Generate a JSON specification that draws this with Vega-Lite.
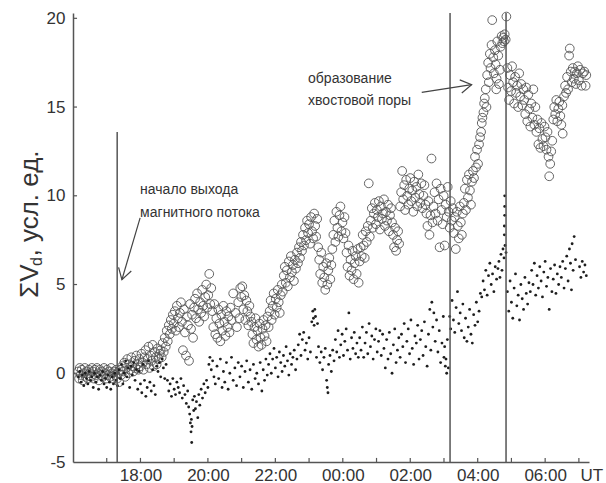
{
"$schema": "https://vega.github.io/schema/vega-lite/v6.json",
"width": 516, "height": 449,
"autosize": {"type": "none"},
"padding": {"left": 73, "top": 13, "right": 17, "bottom": 21},
"background": "white",
"config": {"view": {"stroke": null}, "font": "Liberation Sans", "text": {"font": "Liberation Sans"}},
"datasets": {
"circles": [
{"t":0.15,"v":0.1},{"t":0.18,"v":-0.3},{"t":0.2,"v":0.3},{"t":0.23,"v":-0.1},{"t":0.26,"v":0.2},{"t":0.29,"v":-0.4},{"t":0.32,"v":0.0},{"t":0.35,"v":0.3},{"t":0.38,"v":-0.2},{"t":0.41,"v":0.1},{"t":0.44,"v":-0.3},{"t":0.47,"v":0.2},{"t":0.5,"v":0.0},{"t":0.53,"v":-0.2},{"t":0.56,"v":0.3},{"t":0.59,"v":0.1},{"t":0.62,"v":-0.3},{"t":0.65,"v":0.2},{"t":0.68,"v":-0.1},{"t":0.71,"v":0.3},{"t":0.74,"v":0.0},{"t":0.77,"v":-0.4},{"t":0.8,"v":0.2},{"t":0.83,"v":-0.1},{"t":0.86,"v":0.1},{"t":0.89,"v":-0.2},{"t":0.92,"v":0.3},{"t":0.95,"v":0.0},{"t":0.98,"v":-0.3},{"t":1.01,"v":0.2},{"t":1.04,"v":-0.1},{"t":1.07,"v":0.1},{"t":1.1,"v":-0.2},{"t":1.13,"v":0.3},{"t":1.16,"v":0.0},{"t":1.19,"v":-0.3},{"t":1.22,"v":0.1},{"t":1.25,"v":-0.1},{"t":1.28,"v":0.2},
{"t":1.31,"v":-0.3},{"t":1.34,"v":0.0},{"t":1.37,"v":-0.5},{"t":1.4,"v":0.2},{"t":1.43,"v":-0.1},{"t":1.46,"v":0.4},{"t":1.49,"v":0.1},{"t":1.52,"v":0.6},{"t":1.55,"v":-0.2},{"t":1.58,"v":0.3},{"t":1.61,"v":0.8},{"t":1.64,"v":0.0},{"t":1.67,"v":0.5},{"t":1.7,"v":0.2},{"t":1.73,"v":0.9},{"t":1.76,"v":0.4},{"t":1.79,"v":0.1},{"t":1.82,"v":0.7},{"t":1.85,"v":0.3},{"t":1.88,"v":1.0},{"t":1.91,"v":0.5},{"t":1.94,"v":0.2},{"t":1.97,"v":0.8},
{"t":2.0,"v":0.4},{"t":2.03,"v":1.1},{"t":2.06,"v":0.6},{"t":2.09,"v":0.2},{"t":2.12,"v":0.9},{"t":2.15,"v":1.3},{"t":2.18,"v":0.5},{"t":2.21,"v":0.8},{"t":2.24,"v":1.5},{"t":2.27,"v":0.3},{"t":2.3,"v":1.0},{"t":2.33,"v":0.7},{"t":2.36,"v":1.6},{"t":2.39,"v":0.4},{"t":2.42,"v":1.2},{"t":2.45,"v":0.9},{"t":2.48,"v":0.5},{"t":2.51,"v":1.4},{"t":2.54,"v":0.8},{"t":2.57,"v":1.1},
{"t":2.6,"v":1.3},{"t":2.63,"v":0.9},{"t":2.66,"v":1.7},{"t":2.69,"v":1.2},{"t":2.72,"v":2.0},{"t":2.75,"v":1.5},{"t":2.78,"v":2.4},{"t":2.81,"v":1.8},{"t":2.84,"v":2.7},{"t":2.87,"v":2.2},{"t":2.9,"v":3.0},{"t":2.93,"v":2.5},{"t":2.96,"v":3.3},{"t":2.99,"v":2.8},
{"t":3.02,"v":3.5},{"t":3.05,"v":2.4},{"t":3.08,"v":3.8},{"t":3.11,"v":3.1},{"t":3.14,"v":2.6},{"t":3.17,"v":3.4},{"t":3.2,"v":4.0},{"t":3.23,"v":2.9},{"t":3.26,"v":1.3},{"t":3.29,"v":3.6},{"t":3.32,"v":2.3},{"t":3.35,"v":1.0},{"t":3.38,"v":3.2},{"t":3.41,"v":2.7},{"t":3.44,"v":0.7},{"t":3.47,"v":3.9},{"t":3.5,"v":2.5},{"t":3.53,"v":3.3},{"t":3.56,"v":2.0},{"t":3.59,"v":3.7},
{"t":3.62,"v":4.2},{"t":3.65,"v":3.1},{"t":3.68,"v":4.5},{"t":3.71,"v":3.6},{"t":3.74,"v":2.9},{"t":3.77,"v":4.0},{"t":3.8,"v":3.4},{"t":3.83,"v":4.7},{"t":3.86,"v":3.8},{"t":3.89,"v":3.2},{"t":3.92,"v":4.3},{"t":3.95,"v":5.0},{"t":3.98,"v":3.7},{"t":4.01,"v":4.4},{"t":4.04,"v":5.6},{"t":4.07,"v":3.9},{"t":4.1,"v":4.8},
{"t":4.13,"v":3.5},{"t":4.16,"v":2.6},{"t":4.19,"v":3.9},{"t":4.22,"v":2.2},{"t":4.25,"v":3.1},{"t":4.28,"v":2.0},{"t":4.31,"v":3.6},{"t":4.34,"v":2.8},{"t":4.37,"v":1.8},{"t":4.4,"v":3.3},{"t":4.43,"v":2.4},{"t":4.46,"v":3.8},{"t":4.49,"v":2.9},{"t":4.52,"v":2.1},{"t":4.55,"v":3.5},{"t":4.58,"v":2.6},{"t":4.61,"v":3.2},{"t":4.64,"v":2.3},{"t":4.67,"v":3.7},{"t":4.7,"v":3.0},
{"t":4.75,"v":4.5},{"t":4.82,"v":3.4},{"t":4.86,"v":2.6},{"t":4.9,"v":4.0},{"t":4.93,"v":3.1},{"t":4.96,"v":4.8},{"t":4.99,"v":4.3},{"t":5.02,"v":4.9},{"t":5.05,"v":3.6},{"t":5.08,"v":4.4},{"t":5.11,"v":3.0},{"t":5.14,"v":4.1},{"t":5.17,"v":3.5},{"t":5.2,"v":2.7},{"t":5.23,"v":3.8},{"t":5.26,"v":3.2},
{"t":5.29,"v":2.9},{"t":5.32,"v":2.2},{"t":5.35,"v":1.7},{"t":5.38,"v":2.6},{"t":5.41,"v":3.1},{"t":5.44,"v":1.9},{"t":5.47,"v":2.4},{"t":5.5,"v":1.5},{"t":5.53,"v":2.8},{"t":5.56,"v":2.0},{"t":5.59,"v":1.6},{"t":5.62,"v":2.5},{"t":5.65,"v":3.0},{"t":5.68,"v":2.1},{"t":5.71,"v":2.7},{"t":5.74,"v":1.8},{"t":5.77,"v":3.2},
{"t":5.8,"v":2.6},{"t":5.83,"v":3.5},{"t":5.86,"v":4.1},{"t":5.89,"v":3.0},{"t":5.92,"v":3.8},{"t":5.95,"v":4.5},{"t":5.98,"v":3.3},{"t":6.01,"v":4.2},{"t":6.04,"v":3.7},{"t":6.07,"v":4.7},{"t":6.1,"v":4.0},{"t":6.13,"v":3.4},{"t":6.16,"v":4.4},{"t":6.19,"v":5.0},
{"t":6.22,"v":4.6},{"t":6.25,"v":5.5},{"t":6.28,"v":6.0},{"t":6.31,"v":5.1},{"t":6.34,"v":5.8},{"t":6.37,"v":4.9},{"t":6.4,"v":6.3},{"t":6.43,"v":5.4},{"t":6.46,"v":6.6},{"t":6.49,"v":5.7},{"t":6.52,"v":6.1},{"t":6.55,"v":5.2},{"t":6.58,"v":6.4},{"t":6.61,"v":5.9},{"t":6.64,"v":6.8},{"t":6.67,"v":6.2},{"t":6.7,"v":7.1},{"t":6.73,"v":6.5},
{"t":6.76,"v":7.4},{"t":6.79,"v":6.9},{"t":6.82,"v":7.8},{"t":6.85,"v":7.2},{"t":6.88,"v":8.2},{"t":6.91,"v":7.5},{"t":6.94,"v":8.6},{"t":6.97,"v":7.9},{"t":7.0,"v":8.4},{"t":7.03,"v":7.3},{"t":7.06,"v":8.8},{"t":7.09,"v":8.0},{"t":7.12,"v":7.6},{"t":7.15,"v":9.0},{"t":7.18,"v":8.3},{"t":7.21,"v":7.7},{"t":7.24,"v":8.7},{"t":7.27,"v":7.1},
{"t":7.3,"v":6.4},{"t":7.33,"v":5.6},{"t":7.36,"v":6.8},{"t":7.39,"v":5.1},{"t":7.42,"v":6.0},{"t":7.45,"v":5.4},{"t":7.48,"v":4.7},{"t":7.51,"v":6.2},{"t":7.54,"v":5.0},{"t":7.57,"v":5.8},{"t":7.6,"v":6.5},{"t":7.63,"v":5.3},{"t":7.66,"v":6.1},
{"t":7.69,"v":7.0},{"t":7.72,"v":7.8},{"t":7.75,"v":8.6},{"t":7.78,"v":7.4},{"t":7.81,"v":9.1},{"t":7.84,"v":8.2},{"t":7.87,"v":7.7},{"t":7.9,"v":8.9},{"t":7.93,"v":9.4},{"t":7.96,"v":8.0},{"t":7.99,"v":8.5},{"t":8.02,"v":7.6},{"t":8.05,"v":8.8},{"t":8.08,"v":7.9},
{"t":8.11,"v":6.8},{"t":8.14,"v":6.0},{"t":8.17,"v":7.2},{"t":8.2,"v":5.5},{"t":8.23,"v":6.4},{"t":8.26,"v":5.8},{"t":8.29,"v":6.9},{"t":8.32,"v":5.3},{"t":8.35,"v":6.2},{"t":8.38,"v":6.6},{"t":8.41,"v":5.6},{"t":8.44,"v":7.0},{"t":8.47,"v":5.1},{"t":8.5,"v":6.3},
{"t":8.53,"v":7.1},{"t":8.56,"v":6.6},{"t":8.59,"v":7.8},{"t":8.62,"v":7.2},{"t":8.65,"v":6.5},{"t":8.68,"v":8.0},{"t":8.71,"v":7.4},{"t":8.74,"v":8.3},{"t":8.77,"v":10.7},{"t":8.8,"v":7.7},
{"t":8.83,"v":8.6},{"t":8.86,"v":9.3},{"t":8.89,"v":8.2},{"t":8.92,"v":9.0},{"t":8.95,"v":9.6},{"t":8.98,"v":8.4},{"t":9.01,"v":9.2},{"t":9.04,"v":8.8},{"t":9.07,"v":9.7},{"t":9.1,"v":8.1},{"t":9.13,"v":9.4},{"t":9.16,"v":8.7},{"t":9.19,"v":9.0},{"t":9.22,"v":9.8},{"t":9.25,"v":8.3},{"t":9.28,"v":9.1},{"t":9.31,"v":8.6},{"t":9.34,"v":9.5},{"t":9.37,"v":8.0},{"t":9.4,"v":8.9},{"t":9.43,"v":9.3},{"t":9.46,"v":8.5},
{"t":9.49,"v":7.8},{"t":9.52,"v":7.1},{"t":9.55,"v":8.2},{"t":9.58,"v":6.9},{"t":9.61,"v":7.5},{"t":9.64,"v":8.0},{"t":9.67,"v":7.3},
{"t":9.7,"v":9.4},{"t":9.73,"v":10.2},{"t":9.76,"v":11.4},{"t":9.79,"v":9.8},{"t":9.82,"v":10.6},{"t":9.85,"v":9.2},{"t":9.88,"v":10.9},{"t":9.91,"v":10.0},{"t":9.94,"v":9.5},{"t":9.97,"v":10.4},{"t":10.0,"v":11.0},{"t":10.03,"v":9.7},{"t":10.06,"v":10.3},{"t":10.09,"v":9.1},{"t":10.12,"v":10.8},{"t":10.15,"v":9.9},{"t":10.18,"v":10.5},{"t":10.21,"v":9.4},{"t":10.24,"v":11.2},{"t":10.27,"v":10.1},{"t":10.3,"v":9.6},{"t":10.33,"v":10.7},{"t":10.36,"v":9.3},{"t":10.39,"v":10.0},{"t":10.42,"v":10.6},{"t":10.45,"v":9.5},
{"t":10.48,"v":9.0},{"t":10.51,"v":8.3},{"t":10.54,"v":9.7},{"t":10.57,"v":7.8},{"t":10.6,"v":8.9},{"t":10.63,"v":12.1},{"t":10.66,"v":8.5},{"t":10.69,"v":9.4},
{"t":10.72,"v":10.2},{"t":10.75,"v":9.0},{"t":10.78,"v":10.7},{"t":10.81,"v":8.6},{"t":10.84,"v":9.8},{"t":10.87,"v":7.1},{"t":10.9,"v":10.4},{"t":10.93,"v":9.2},{"t":10.96,"v":8.4},{"t":10.99,"v":10.0},{"t":11.02,"v":7.2},{"t":11.05,"v":9.5},{"t":11.08,"v":8.8},{"t":11.11,"v":10.5},{"t":11.14,"v":9.1},{"t":11.17,"v":8.2},{"t":11.2,"v":9.7},
{"t":11.23,"v":8.6},{"t":11.26,"v":9.3},{"t":11.29,"v":7.9},{"t":11.32,"v":8.8},{"t":11.35,"v":7.0},{"t":11.38,"v":9.1},{"t":11.41,"v":8.3},{"t":11.44,"v":7.6},{"t":11.47,"v":9.4},{"t":11.5,"v":8.5},{"t":11.53,"v":7.8},{"t":11.56,"v":9.0},
{"t":11.59,"v":9.6},{"t":11.62,"v":10.4},{"t":11.65,"v":9.2},{"t":11.68,"v":10.9},{"t":11.71,"v":9.9},{"t":11.74,"v":11.2},{"t":11.77,"v":10.3},{"t":11.8,"v":9.5},{"t":11.83,"v":10.8},{"t":11.86,"v":11.4},
{"t":11.89,"v":11.0},{"t":11.92,"v":12.2},{"t":11.95,"v":11.6},{"t":11.98,"v":12.6},{"t":12.01,"v":11.8},{"t":12.04,"v":12.9},
{"t":12.07,"v":13.3},{"t":12.1,"v":13.6},{"t":12.12,"v":14.1},{"t":12.14,"v":14.4},{"t":12.17,"v":14.7},{"t":12.19,"v":15.2},{"t":12.21,"v":15.5},{"t":12.24,"v":16.0},{"t":12.26,"v":15.0},
{"t":12.28,"v":16.8},{"t":12.31,"v":17.5},{"t":12.33,"v":16.4},{"t":12.36,"v":18.0},{"t":12.38,"v":17.2},{"t":12.41,"v":18.5},{"t":12.43,"v":19.9},{"t":12.46,"v":17.8},{"t":12.48,"v":16.9},{"t":12.51,"v":18.2},{"t":12.53,"v":17.4},{"t":12.55,"v":16.0},{"t":12.56,"v":16.6},{"t":12.58,"v":18.7},{"t":12.61,"v":17.9},{"t":12.63,"v":16.3},{"t":12.66,"v":17.1},{"t":12.68,"v":18.4},{"t":12.71,"v":19.0},{"t":12.73,"v":18.6},{"t":12.76,"v":18.9},{"t":12.78,"v":18.7},{"t":12.8,"v":19.1},{"t":12.83,"v":18.8},{"t":12.85,"v":20.1},
{"t":12.88,"v":17.2},{"t":12.9,"v":16.1},{"t":12.93,"v":15.4},{"t":12.96,"v":16.8},{"t":12.99,"v":15.9},{"t":13.02,"v":17.3},{"t":13.05,"v":16.4},{"t":13.08,"v":15.2},{"t":13.11,"v":16.7},{"t":13.14,"v":15.8},{"t":13.17,"v":16.2},{"t":13.2,"v":15.0},{"t":13.23,"v":16.9},{"t":13.26,"v":15.6},{"t":13.29,"v":16.3},{"t":13.32,"v":15.1},{"t":13.35,"v":16.0},
{"t":13.38,"v":15.4},{"t":13.41,"v":14.6},{"t":13.44,"v":16.1},{"t":13.47,"v":14.2},{"t":13.5,"v":15.7},{"t":13.53,"v":14.9},{"t":13.56,"v":13.9},{"t":13.59,"v":15.2},{"t":13.62,"v":14.4},{"t":13.65,"v":16.0},{"t":13.68,"v":14.0},{"t":13.71,"v":15.0},
{"t":13.74,"v":13.6},{"t":13.77,"v":14.3},{"t":13.8,"v":12.9},{"t":13.83,"v":13.8},{"t":13.86,"v":12.7},{"t":13.89,"v":14.1},{"t":13.92,"v":13.2},{"t":13.95,"v":12.8},{"t":13.98,"v":13.9},{"t":14.01,"v":13.3},{"t":14.04,"v":12.6},{"t":14.07,"v":13.6},{"t":14.1,"v":12.2},{"t":14.12,"v":11.1},{"t":14.15,"v":11.8},{"t":14.18,"v":12.5},{"t":14.21,"v":13.1},
{"t":14.24,"v":14.3},{"t":14.27,"v":15.0},{"t":14.3,"v":14.6},{"t":14.33,"v":15.4},{"t":14.36,"v":14.2},{"t":14.39,"v":14.9},{"t":14.42,"v":15.3},{"t":14.45,"v":14.5},{"t":14.48,"v":14.0},{"t":14.51,"v":15.1},{"t":14.52,"v":13.5},
{"t":14.56,"v":15.6},{"t":14.59,"v":16.2},{"t":14.62,"v":15.8},{"t":14.65,"v":16.7},{"t":14.68,"v":16.0},{"t":14.71,"v":17.9},{"t":14.73,"v":18.3},{"t":14.76,"v":17.0},{"t":14.79,"v":16.4},{"t":14.82,"v":17.2},{"t":14.85,"v":16.6},{"t":14.88,"v":17.0},{"t":14.91,"v":16.3},{"t":14.94,"v":16.9},{"t":14.97,"v":17.3},
{"t":15.0,"v":16.5},{"t":15.04,"v":17.1},{"t":15.08,"v":16.2},{"t":15.12,"v":16.9},{"t":15.16,"v":17.0},{"t":15.2,"v":16.2},{"t":15.22,"v":16.8}
],
"dots": [
{"t":0.16,"v":-0.2},{"t":0.2,"v":0.1},{"t":0.24,"v":-0.5},{"t":0.28,"v":-0.1},{"t":0.32,"v":-0.7},{"t":0.36,"v":0.0},{"t":0.4,"v":-0.3},{"t":0.44,"v":-0.6},{"t":0.48,"v":0.1},{"t":0.52,"v":-0.4},{"t":0.56,"v":-0.2},{"t":0.6,"v":-0.8},{"t":0.64,"v":0.0},{"t":0.68,"v":-0.5},{"t":0.72,"v":-0.2},{"t":0.76,"v":-0.9},{"t":0.8,"v":-0.1},{"t":0.84,"v":-0.4},{"t":0.88,"v":0.1},{"t":0.92,"v":-0.6},{"t":0.96,"v":-0.3},{"t":1.0,"v":-0.8},{"t":1.04,"v":-0.1},{"t":1.08,"v":-0.5},{"t":1.12,"v":-0.9},{"t":1.16,"v":-0.2},{"t":1.2,"v":-0.6},{"t":1.24,"v":0.0},{"t":1.28,"v":-0.4},
{"t":1.32,"v":-0.7},{"t":1.36,"v":0.2},{"t":1.4,"v":-0.3},{"t":1.44,"v":0.5},{"t":1.48,"v":-0.6},{"t":1.52,"v":0.0},{"t":1.56,"v":0.7},{"t":1.6,"v":-0.2},{"t":1.64,"v":0.3},{"t":1.68,"v":-0.8},{"t":1.72,"v":0.4},{"t":1.76,"v":-0.1},{"t":1.8,"v":0.6},{"t":1.84,"v":-0.4},{"t":1.88,"v":0.2},{"t":1.92,"v":-0.9},{"t":1.96,"v":0.1},
{"t":2.0,"v":-0.6},{"t":2.04,"v":-1.1},{"t":2.08,"v":0.5},{"t":2.12,"v":-0.4},{"t":2.16,"v":-1.3},{"t":2.2,"v":-0.8},{"t":2.24,"v":0.7},{"t":2.28,"v":-0.5},{"t":2.32,"v":-1.0},{"t":2.36,"v":0.2},{"t":2.4,"v":-0.7},{"t":2.44,"v":-1.2},{"t":2.48,"v":0.4},
{"t":2.52,"v":0.1},{"t":2.56,"v":0.6},{"t":2.6,"v":-0.2},{"t":2.64,"v":0.8},{"t":2.68,"v":0.3},{"t":2.72,"v":-0.3},{"t":2.76,"v":0.5},
{"t":2.8,"v":-0.4},{"t":2.84,"v":-1.0},{"t":2.88,"v":-0.6},{"t":2.92,"v":-1.3},{"t":2.96,"v":-0.3},{"t":3.0,"v":-0.9},{"t":3.04,"v":-1.2},{"t":3.08,"v":-0.5},{"t":3.12,"v":-0.8},{"t":3.16,"v":-1.1},{"t":3.2,"v":-0.3},{"t":3.24,"v":-1.4},{"t":3.28,"v":-0.7},
{"t":3.32,"v":-1.2},{"t":3.36,"v":-1.7},{"t":3.4,"v":-1.0},{"t":3.43,"v":-1.9},{"t":3.46,"v":-2.3},{"t":3.48,"v":-2.8},{"t":3.5,"v":-3.3},{"t":3.51,"v":-2.6},{"t":3.52,"v":-3.9},{"t":3.53,"v":-3.0},{"t":3.55,"v":-1.5},{"t":3.58,"v":-2.1},{"t":3.6,"v":-1.3},
{"t":3.63,"v":-2.0},{"t":3.66,"v":-1.6},{"t":3.7,"v":-2.5},{"t":3.73,"v":-1.2},{"t":3.76,"v":-1.8},{"t":3.8,"v":-0.9},{"t":3.84,"v":-1.4},{"t":3.88,"v":-0.6},{"t":3.92,"v":-1.1},{"t":3.96,"v":-0.4},{"t":4.0,"v":-0.8},
{"t":4.03,"v":0.5},{"t":4.06,"v":0.9},{"t":4.1,"v":0.2},{"t":4.14,"v":0.7},{"t":4.18,"v":-0.2},
{"t":4.22,"v":-0.6},{"t":4.27,"v":0.4},{"t":4.32,"v":-0.3},{"t":4.37,"v":0.8},{"t":4.42,"v":-0.8},{"t":4.46,"v":0.1},{"t":4.5,"v":-0.5},{"t":4.55,"v":0.6},{"t":4.6,"v":-0.9},{"t":4.65,"v":0.0},
{"t":4.7,"v":0.9},{"t":4.75,"v":-0.4},{"t":4.8,"v":0.3},{"t":4.85,"v":-0.7},{"t":4.9,"v":0.6},{"t":4.95,"v":-0.2},{"t":5.0,"v":0.4},{"t":5.05,"v":-0.8},{"t":5.1,"v":0.1},{"t":5.15,"v":0.7},{"t":5.2,"v":-0.5},{"t":5.25,"v":0.2},{"t":5.3,"v":-0.9},{"t":5.35,"v":0.5},{"t":5.4,"v":-0.3},{"t":5.45,"v":0.0},
{"t":5.5,"v":-0.6},{"t":5.55,"v":0.6},{"t":5.6,"v":-1.0},{"t":5.64,"v":0.2},{"t":5.68,"v":-0.4},{"t":5.72,"v":0.8},{"t":5.76,"v":-0.1},
{"t":5.8,"v":0.5},{"t":5.84,"v":1.1},{"t":5.88,"v":0.0},{"t":5.92,"v":0.8},{"t":5.96,"v":1.4},{"t":6.0,"v":0.3},{"t":6.04,"v":0.9},{"t":6.08,"v":-0.2},{"t":6.12,"v":1.2},{"t":6.16,"v":0.6},{"t":6.2,"v":0.1},{"t":6.24,"v":1.0},{"t":6.28,"v":0.4},{"t":6.32,"v":1.5},{"t":6.36,"v":0.7},{"t":6.4,"v":-0.1},{"t":6.44,"v":1.1},{"t":6.48,"v":0.5},{"t":6.52,"v":0.9},{"t":6.56,"v":1.3},{"t":6.6,"v":0.2},{"t":6.64,"v":0.8},
{"t":6.68,"v":1.6},{"t":6.72,"v":2.2},{"t":6.76,"v":1.0},{"t":6.8,"v":1.9},{"t":6.84,"v":2.3},{"t":6.88,"v":1.3},{"t":6.92,"v":1.7},{"t":6.96,"v":0.8},{"t":7.0,"v":2.0},
{"t":7.04,"v":1.2},{"t":7.08,"v":2.9},{"t":7.11,"v":3.5},{"t":7.13,"v":3.1},{"t":7.15,"v":2.7},{"t":7.17,"v":3.6},{"t":7.19,"v":3.2},{"t":7.22,"v":0.9},{"t":7.25,"v":2.8},{"t":7.28,"v":1.5},
{"t":7.32,"v":0.6},{"t":7.36,"v":1.2},{"t":7.4,"v":0.2},{"t":7.44,"v":0.9},{"t":7.48,"v":1.4},{"t":7.52,"v":-0.4},{"t":7.54,"v":-0.8},{"t":7.56,"v":-1.1},{"t":7.58,"v":0.5},{"t":7.62,"v":1.0},{"t":7.66,"v":0.1},{"t":7.7,"v":1.3},{"t":7.74,"v":0.7},
{"t":7.78,"v":1.9},{"t":7.82,"v":1.2},{"t":7.86,"v":2.4},{"t":7.9,"v":0.9},{"t":7.94,"v":1.6},{"t":7.98,"v":2.2},{"t":8.02,"v":1.0},{"t":8.06,"v":1.8},{"t":8.1,"v":2.5},{"t":8.14,"v":1.3},{"t":8.18,"v":3.4},{"t":8.22,"v":0.8},{"t":8.26,"v":2.0},{"t":8.3,"v":1.4},{"t":8.34,"v":2.3},{"t":8.38,"v":1.1},{"t":8.42,"v":1.7},{"t":8.46,"v":0.9},
{"t":8.5,"v":2.0},{"t":8.54,"v":1.3},{"t":8.58,"v":2.6},{"t":8.62,"v":0.9},{"t":8.66,"v":1.7},{"t":8.7,"v":2.3},{"t":8.74,"v":1.1},{"t":8.78,"v":2.8},{"t":8.82,"v":1.5},{"t":8.86,"v":2.1},{"t":8.9,"v":0.8},{"t":8.94,"v":1.9},{"t":8.98,"v":2.5},{"t":9.02,"v":1.2},{"t":9.06,"v":1.8},{"t":9.1,"v":2.4},{"t":9.14,"v":1.0},{"t":9.18,"v":2.2},
{"t":9.22,"v":1.4},{"t":9.26,"v":0.3},{"t":9.3,"v":1.9},{"t":9.34,"v":0.8},{"t":9.38,"v":2.3},{"t":9.42,"v":1.1},{"t":9.46,"v":0.0},{"t":9.5,"v":1.6},{"t":9.54,"v":2.5},{"t":9.58,"v":0.6},{"t":9.62,"v":1.3},{"t":9.66,"v":2.0},
{"t":9.7,"v":0.9},{"t":9.74,"v":2.2},{"t":9.78,"v":1.5},{"t":9.82,"v":2.8},{"t":9.86,"v":0.6},{"t":9.9,"v":1.8},{"t":9.94,"v":2.5},{"t":9.98,"v":1.1},{"t":10.02,"v":3.0},{"t":10.06,"v":1.4},{"t":10.1,"v":0.5},{"t":10.14,"v":2.1},{"t":10.18,"v":1.7},{"t":10.22,"v":2.7},{"t":10.26,"v":0.8},{"t":10.3,"v":1.9},{"t":10.34,"v":2.4},{"t":10.38,"v":1.0},{"t":10.42,"v":2.9},{"t":10.46,"v":1.5},{"t":10.5,"v":0.4},
{"t":10.54,"v":2.2},{"t":10.58,"v":3.6},{"t":10.61,"v":1.3},{"t":10.64,"v":4.0},{"t":10.67,"v":2.6},{"t":10.7,"v":3.4},{"t":10.74,"v":1.8},
{"t":10.78,"v":3.0},{"t":10.82,"v":1.2},{"t":10.86,"v":2.4},{"t":10.9,"v":0.6},{"t":10.94,"v":1.7},{"t":10.98,"v":3.2},{"t":11.0,"v":0.9},{"t":11.02,"v":1.5},{"t":11.04,"v":0.4},{"t":11.06,"v":0.8},{"t":11.08,"v":0.0},{"t":11.1,"v":1.9},{"t":11.13,"v":0.3},
{"t":11.17,"v":3.2},{"t":11.2,"v":2.5},{"t":11.24,"v":4.1},{"t":11.28,"v":3.0},{"t":11.32,"v":2.3},{"t":11.36,"v":3.7},{"t":11.4,"v":4.6},{"t":11.44,"v":2.8},{"t":11.48,"v":3.4},{"t":11.52,"v":2.4},{"t":11.56,"v":3.9},
{"t":11.6,"v":2.0},{"t":11.64,"v":3.1},{"t":11.68,"v":1.8},{"t":11.72,"v":2.6},{"t":11.76,"v":3.6},{"t":11.8,"v":2.2},{"t":11.84,"v":1.7},{"t":11.88,"v":3.3},{"t":11.92,"v":2.7},{"t":11.96,"v":4.0},{"t":12.0,"v":2.9},{"t":12.04,"v":3.5},{"t":12.08,"v":4.5},
{"t":12.12,"v":4.3},{"t":12.16,"v":5.2},{"t":12.2,"v":4.7},{"t":12.24,"v":5.8},{"t":12.28,"v":4.4},{"t":12.32,"v":5.5},{"t":12.36,"v":6.2},{"t":12.4,"v":5.0},{"t":12.44,"v":5.6},{"t":12.48,"v":4.6},{"t":12.52,"v":6.0},{"t":12.56,"v":5.3},
{"t":12.6,"v":5.9},{"t":12.63,"v":6.3},{"t":12.66,"v":5.4},{"t":12.69,"v":6.7},{"t":12.72,"v":5.8},{"t":12.75,"v":7.0},{"t":12.78,"v":6.5},{"t":12.81,"v":7.2},{"t":12.84,"v":6.8},
{"t":12.79,"v":7.8},{"t":12.79,"v":8.3},{"t":12.8,"v":8.9},{"t":12.8,"v":9.4},{"t":12.8,"v":10.0},
{"t":12.88,"v":4.6},{"t":12.92,"v":3.5},{"t":12.96,"v":5.2},{"t":13.0,"v":4.0},{"t":13.04,"v":3.1},{"t":13.08,"v":4.8},{"t":13.12,"v":5.6},{"t":13.16,"v":3.8},{"t":13.2,"v":4.4},{"t":13.24,"v":3.0},{"t":13.28,"v":5.0},{"t":13.32,"v":4.2},{"t":13.36,"v":3.6},{"t":13.4,"v":5.4},{"t":13.44,"v":4.5},{"t":13.48,"v":3.9},{"t":13.52,"v":5.1},
{"t":13.56,"v":4.6},{"t":13.6,"v":5.8},{"t":13.64,"v":5.0},{"t":13.68,"v":6.2},{"t":13.72,"v":4.4},{"t":13.76,"v":5.5},{"t":13.8,"v":4.8},{"t":13.84,"v":6.0},{"t":13.88,"v":5.2},{"t":13.92,"v":4.3},{"t":13.96,"v":5.7},{"t":14.0,"v":6.3},{"t":14.04,"v":4.9},{"t":14.08,"v":5.4},{"t":14.12,"v":3.6},{"t":14.16,"v":5.9},{"t":14.2,"v":4.6},{"t":14.24,"v":5.3},{"t":14.28,"v":6.1},{"t":14.32,"v":4.5},{"t":14.36,"v":5.6},{"t":14.4,"v":5.0},{"t":14.44,"v":6.0},
{"t":14.48,"v":5.4},{"t":14.52,"v":6.3},{"t":14.56,"v":4.8},{"t":14.6,"v":5.9},{"t":14.64,"v":6.6},{"t":14.68,"v":5.2},{"t":14.72,"v":7.0},{"t":14.75,"v":6.2},{"t":14.78,"v":4.7},{"t":14.8,"v":7.3},{"t":14.83,"v":5.8},{"t":14.86,"v":7.7},{"t":14.9,"v":6.4},
{"t":15.02,"v":6.0},{"t":15.06,"v":5.4},{"t":15.1,"v":6.3},{"t":15.14,"v":5.7},{"t":15.18,"v":6.1},{"t":15.22,"v":5.5}
],
"events": [
{"t":1.31,"top":13.6},{"t":11.18,"top":20.3},{"t":12.84,"top":20.3}
],
"xticks": [{"t":1},{"t":2},{"t":3},{"t":4},{"t":5},{"t":6},{"t":7},{"t":8},{"t":9},{"t":10},{"t":11},{"t":12},{"t":13},{"t":14},{"t":15}],
"yticks": [{"v":0},{"v":5},{"v":10},{"v":15},{"v":20}]
},
"layer": [
{
"data": {"name": "circles"},
"mark": {"type": "point", "shape": "circle", "filled": false, "size": 76, "strokeWidth": 1, "color": "#555", "opacity": 0.9},
"encoding": {
"x": {"field": "t", "type": "quantitative",
 "scale": {"domain": [0, 15.3], "nice": false, "zero": false},
 "axis": {"values": [2,4,6,8,10,12,14],
  "labelExpr": "datum.value == 2 ? '18:00' : datum.value == 4 ? '20:00' : datum.value == 6 ? '22:00' : datum.value == 8 ? '00:00' : datum.value == 10 ? '02:00' : datum.value == 12 ? '04:00' : datum.value == 14 ? '06:00' : ''",
  "grid": false, "domainColor": "#555", "domainWidth": 1.5, "ticks": false,
  "labelFontSize": 17, "labelColor": "#333", "labelFont": "Liberation Sans", "labelPadding": 5, "labelOverlap": false, "labelFlush": false,
  "title": "UT", "titleX": 507, "titleY": 5, "titleAlign": "left", "titleBaseline": "top",
  "titleFontSize": 17, "titleFontWeight": "normal", "titleColor": "#333", "titleFont": "Liberation Sans"}},
"y": {"field": "v", "type": "quantitative",
 "scale": {"domain": [-5, 20.3], "nice": false, "zero": false},
 "axis": {"values": [-5,0,5,10,15,20], "labelExpr": "'' + datum.value",
  "grid": false, "domainColor": "#555", "domainWidth": 1.5, "ticks": false,
  "labelFontSize": 17, "labelColor": "#333", "labelFont": "Liberation Sans", "labelPadding": 8, "title": null}}
}
},
{
"data": {"name": "dots"},
"mark": {"type": "point", "shape": "circle", "filled": true, "size": 8, "color": "#1e1e1e", "opacity": 1},
"encoding": {"x": {"field": "t", "type": "quantitative"}, "y": {"field": "v", "type": "quantitative"}}
},
{
"data": {"name": "events"},
"mark": {"type": "rule", "color": "#555", "strokeWidth": 1.5},
"encoding": {"x": {"field": "t", "type": "quantitative"}, "y": {"field": "top", "type": "quantitative"}, "y2": {"datum": -5}}
},
{
"data": {"name": "xticks"},
"mark": {"type": "rule", "color": "#555", "strokeWidth": 1.2},
"encoding": {"x": {"field": "t", "type": "quantitative"}, "y": {"datum": -5}, "y2": {"datum": -4.77}}
},
{
"data": {"name": "yticks"},
"mark": {"type": "rule", "color": "#555", "strokeWidth": 1.2},
"encoding": {"y": {"field": "v", "type": "quantitative"}, "x": {"datum": 0}, "x2": {"datum": 0.12}}
},
{
"data": {"values": [{}]},
"mark": {"type": "text", "text": "начало выхода", "align": "left", "baseline": "middle", "fontSize": 14, "color": "#333"},
"encoding": {"x": {"datum": 1.99}, "y": {"datum": 10.34}}
},
{
"data": {"values": [{}]},
"mark": {"type": "text", "text": "магнитного потока", "align": "left", "baseline": "middle", "fontSize": 14, "color": "#333"},
"encoding": {"x": {"datum": 1.99}, "y": {"datum": 9.04}}
},
{
"data": {"values": [{}]},
"mark": {"type": "text", "text": "образование", "align": "left", "baseline": "middle", "fontSize": 14, "color": "#333"},
"encoding": {"x": {"datum": 6.97}, "y": {"datum": 16.6}}
},
{
"data": {"values": [{}]},
"mark": {"type": "text", "text": "хвостовой поры", "align": "left", "baseline": "middle", "fontSize": 14, "color": "#333"},
"encoding": {"x": {"datum": 6.97}, "y": {"datum": 15.33}}
},
{
"data": {"values": [{}]},
"mark": {"type": "rule", "color": "#444", "strokeWidth": 1.2},
"encoding": {"x": {"datum": 1.99}, "y": {"datum": 8.76}, "x2": {"datum": 1.45}, "y2": {"datum": 5.27}}
},
{
"data": {"values": [{}]},
"mark": {"type": "point", "shape": "M -0.6 1 L 0 0 L 0.6 1", "filled": false, "size": 484, "strokeWidth": 1.2, "color": "#444", "opacity": 1, "angle": 196},
"encoding": {"x": {"datum": 1.45}, "y": {"datum": 5.27}}
},
{
"data": {"values": [{}]},
"mark": {"type": "rule", "color": "#444", "strokeWidth": 1.2},
"encoding": {"x": {"datum": 10.34}, "y": {"datum": 15.83}, "x2": {"datum": 11.82}, "y2": {"datum": 16.26}}
},
{
"data": {"values": [{}]},
"mark": {"type": "point", "shape": "M -0.6 1 L 0 0 L 0.6 1", "filled": false, "size": 484, "strokeWidth": 1.2, "color": "#444", "opacity": 1, "angle": 81},
"encoding": {"x": {"datum": 11.82}, "y": {"datum": 16.26}}
},
{
"data": {"values": [{}]},
"mark": {"type": "text", "text": "ΣV", "angle": 270, "align": "left", "baseline": "alphabetic", "fontSize": 26, "color": "#333"},
"encoding": {"x": {"datum": -1.04}, "y": {"datum": 4.25}}
},
{
"data": {"values": [{}]},
"mark": {"type": "text", "text": "d", "angle": 270, "align": "left", "baseline": "alphabetic", "fontSize": 16, "color": "#333"},
"encoding": {"x": {"datum": -0.92}, "y": {"datum": 6.05}}
},
{
"data": {"values": [{}]},
"mark": {"type": "text", "text": ", усл. ед.", "angle": 270, "align": "left", "baseline": "alphabetic", "fontSize": 26, "color": "#333"},
"encoding": {"x": {"datum": -1.04}, "y": {"datum": 6.58}}
}
]
}
